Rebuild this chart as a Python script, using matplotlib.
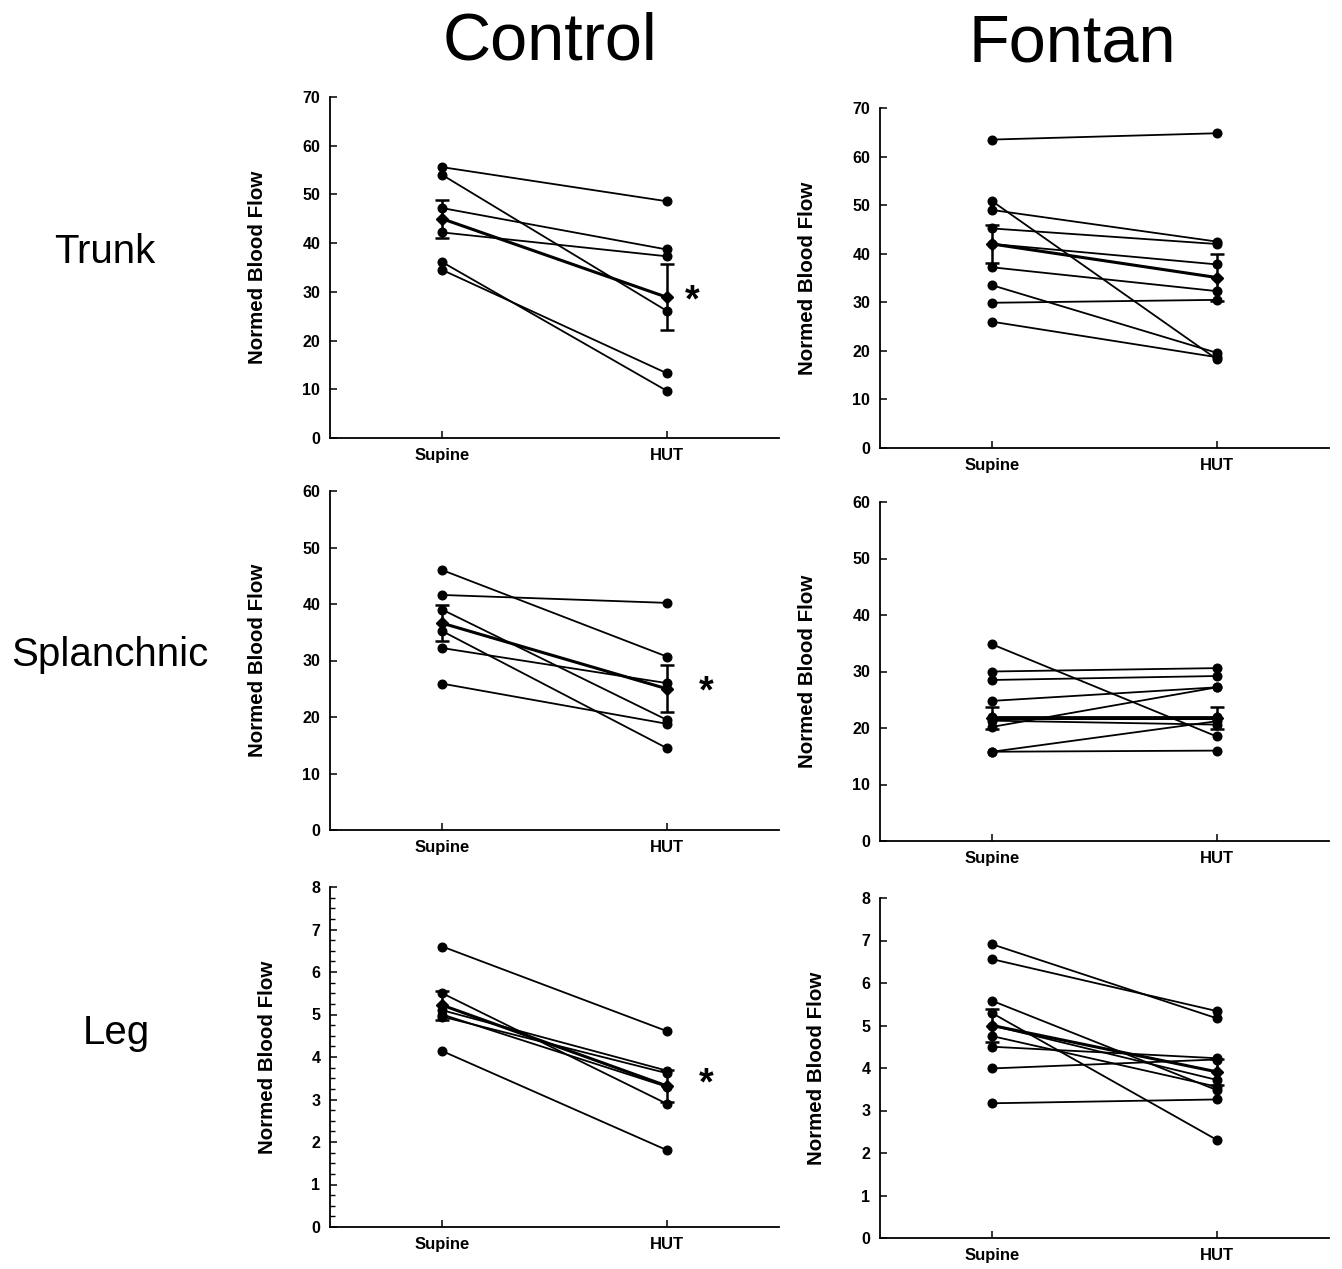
import matplotlib
matplotlib.use("Agg")
import matplotlib.pyplot as plt
from matplotlib.ticker import MultipleLocator

plt.rcParams['font.family'] = ['Liberation Sans', 'DejaVu Sans']

# conditions on the x axis
conditions = ["Supine", "HUT"]
xpos = [1, 2]

# Control - Trunk
ctrl_trunk_supine = [55.6, 54.0, 47.2, 42.2, 36.1, 34.5]
ctrl_trunk_hut = [48.6, 26.1, 38.7, 37.3, 9.7, 13.3]
ctrl_trunk_mean = [45.0, 28.9]
ctrl_trunk_se = [3.95, 6.75]

# Fontan - Trunk
fon_trunk_supine = [63.5, 50.8, 49.0, 45.2, 42.0, 37.2, 33.5, 29.9, 26.0]
fon_trunk_hut = [64.8, 18.3, 42.5, 42.0, 37.8, 32.3, 19.6, 30.5, 18.7]
fon_trunk_mean = [42.0, 35.1]
fon_trunk_se = [4.0, 4.9]

# Control - Splanchnic
ctrl_spl_supine = [46.0, 41.6, 39.0, 35.2, 32.2, 25.9]
ctrl_spl_hut = [30.7, 40.2, 19.5, 14.5, 26.0, 18.8]
ctrl_spl_mean = [36.6, 25.0]
ctrl_spl_se = [3.2, 4.15]

# Fontan - Splanchnic
fon_spl_supine = [34.8, 30.0, 28.5, 24.8, 21.9, 21.3, 20.2, 15.8, 15.8]
fon_spl_hut = [18.5, 30.6, 29.2, 27.2, 21.9, 20.6, 27.2, 21.2, 16.0]
fon_spl_mean = [21.8, 21.8]
fon_spl_se = [2.0, 2.0]

# Control - Leg
ctrl_leg_supine = [6.6, 5.5, 5.1, 5.0, 4.95, 4.14]
ctrl_leg_hut = [4.61, 2.9, 3.68, 3.3, 3.62, 1.81]
ctrl_leg_mean = [5.22, 3.32]
ctrl_leg_se = [0.34, 0.38]

# Fontan - Leg
fon_leg_supine = [6.91, 6.56, 5.58, 5.29, 5.0, 4.75, 4.5, 3.99, 3.17]
fon_leg_hut = [5.17, 5.34, 3.48, 2.31, 3.72, 3.56, 4.23, 4.2, 3.26]
fon_leg_mean = [5.0, 3.91]
fon_leg_se = [0.39, 0.3]

W, H = 1342, 1269
fig = plt.figure(figsize=(W / 100, H / 100), dpi=100)


def axes_px(x0, y_top, x1, y_bot):
    # axes placed by pixel box (y measured from top of the image)
    return fig.add_axes([x0 / W, 1 - y_bot / H, (x1 - x0) / W, (y_bot - y_top) / H])


def draw_panel(ax, supine, hut, mean, se, ymax, step, label_x, minor=None):
    for s, h in zip(supine, hut):
        ax.plot(xpos, [s, h], color='black', lw=1.3, marker='o', ms=6.2, zorder=2)
    ax.errorbar(xpos, mean, yerr=se, color='black', lw=2.2, marker='D', ms=6.2,
                capsize=5, capthick=1.8, elinewidth=1.8, zorder=3)
    ax.set_xlim(0.5, 2.5)
    ax.set_ylim(0, ymax)
    for side in ['top', 'right']:
        ax.spines[side].set_visible(False)
    for side in ['left', 'bottom']:
        ax.spines[side].set_linewidth(1.3)
    ax.set_xticks(xpos)
    ax.set_xticklabels(conditions, fontweight='bold', fontsize=12)
    ax.set_yticks(range(0, ymax + 1, step))
    for lab in ax.get_yticklabels():
        lab.set_fontweight('bold')
        lab.set_fontsize(11.5)
    ax.tick_params(direction='in', length=5, width=1.1, pad=7)
    if minor:
        ax.yaxis.set_minor_locator(MultipleLocator(minor))
        ax.tick_params(which='minor', direction='in', length=3.5, width=1)
    ax.set_ylabel("Normed Blood Flow", fontsize=14.8, fontweight='bold')
    ax.yaxis.set_label_coords(label_x, 0.5)


def star(ax, x, y):
    ax.annotate("*", xy=(x, y), xytext=(0, -14), textcoords='offset points',
                ha='center', va='baseline', fontsize=27, fontweight='bold')


ax1 = axes_px(330, 97, 779, 438)
draw_panel(ax1, ctrl_trunk_supine, ctrl_trunk_hut, ctrl_trunk_mean, ctrl_trunk_se, 70, 10, -0.14)
star(ax1, 2.112, 30.0)

ax2 = axes_px(880, 108, 1329, 448)
draw_panel(ax2, fon_trunk_supine, fon_trunk_hut, fon_trunk_mean, fon_trunk_se, 70, 10, -0.14)

ax3 = axes_px(330, 491, 779, 830)
draw_panel(ax3, ctrl_spl_supine, ctrl_spl_hut, ctrl_spl_mean, ctrl_spl_se, 60, 10, -0.14)
star(ax3, 2.175, 26.0)

ax4 = axes_px(880, 502, 1329, 841)
draw_panel(ax4, fon_spl_supine, fon_spl_hut, fon_spl_mean, fon_spl_se, 60, 10, -0.14)

ax5 = axes_px(330, 887, 779, 1227)
draw_panel(ax5, ctrl_leg_supine, ctrl_leg_hut, ctrl_leg_mean, ctrl_leg_se, 8, 1, -0.118, minor=0.25)
star(ax5, 2.175, 3.58)

ax6 = axes_px(880, 898, 1329, 1238)
draw_panel(ax6, fon_leg_supine, fon_leg_hut, fon_leg_mean, fon_leg_se, 8, 1, -0.12)

# column titles and row labels
fig.text(550 / W, 1 - 59 / H, "Control", fontsize=48, ha='center', va='baseline')
fig.text(1072 / W, 1 - 62 / H, "Fontan", fontsize=48, ha='center', va='baseline')
fig.text(105 / W, 1 - 263 / H, "Trunk", fontsize=29, ha='center', va='baseline')
fig.text(110 / W, 1 - 666 / H, "Splanchnic", fontsize=29, ha='center', va='baseline')
fig.text(116 / W, 1 - 1044 / H, "Leg", fontsize=29, ha='center', va='baseline')

fig.savefig("out.png", dpi=100)
